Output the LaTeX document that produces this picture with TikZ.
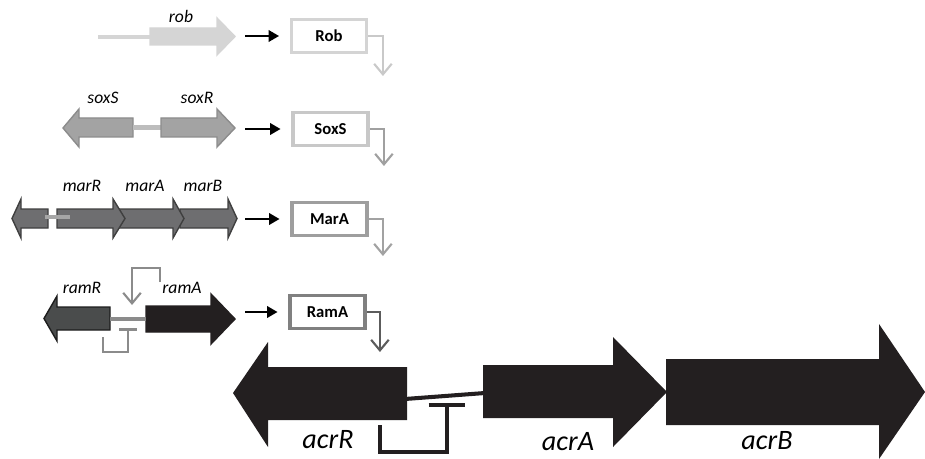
\documentclass[tikz,border=0pt]{standalone}
\usepackage{fontspec}
\setmainfont{Carlito}
\usetikzlibrary{arrows.meta}

\definecolor{robgray}{HTML}{D5D5D5}
\definecolor{robbox}{HTML}{D4D4D4}
\definecolor{robprom}{HTML}{C9C9C9}
\definecolor{soxfill}{HTML}{A3A3A3}
\definecolor{soxline}{HTML}{8C8C8C}
\definecolor{soxlink}{HTML}{BDBDBD}
\definecolor{soxbox}{HTML}{C8C8C8}
\definecolor{soxprom}{HTML}{A0A0A0}
\definecolor{marfill}{HTML}{6E6E70}
\definecolor{marline}{HTML}{3F3F3F}
\definecolor{marlink}{HTML}{A6A6A6}
\definecolor{marbox}{HTML}{9E9E9E}
\definecolor{marprom}{HTML}{A2A2A2}
\definecolor{ramRfill}{HTML}{4A4C4C}
\definecolor{ramline}{HTML}{1D1D1D}
\definecolor{ramAfill}{HTML}{231F20}
\definecolor{ramlink}{HTML}{8B8B8B}
\definecolor{rambox}{HTML}{808080}
\definecolor{ramprom}{HTML}{5C5C5C}
\definecolor{acrfill}{HTML}{231F20}

\tikzset{
  gene/.style={line width=0.8pt, line join=miter},
  regbox/.style={draw, line width=2.2pt, fill=white, minimum width=1.5cm,
    minimum height=0.66cm, font=\fontsize{9.5}{11}\selectfont\bfseries},
  genelabel/.style={font=\fontsize{10}{12}\selectfont\itshape},
  biglabel/.style={font=\fontsize{16}{19}\selectfont\itshape},
  act/.style={-{Triangle[length=6pt,width=6.5pt]}, line width=1.4pt, shorten >=0.21cm},
  prom/.style={-{Straight Barb[length=6pt,width=10pt]}, line width=1.2pt},
  repress/.style={-{Bar[width=21pt]}, line width=2.3pt},
  repsmall/.style={-{Bar[width=10pt]}, line width=1.7pt}
}

\begin{document}
\begin{tikzpicture}[x=0.02cm, y=-0.02cm]
  \useasboundingbox (0,0) rectangle (925,459);

  % rob
  \draw[line width=2.3pt, robgray] (98,37) -- (152,37);
  \filldraw[gene, fill=robgray, draw=robgray] (150,28) -- (217,28) -- (217,18) -- (235,36.5) -- (217,55) -- (217,45) -- (150,45) -- cycle;
  \node[genelabel] (roblab) at (181,16) {rob};
  \node[regbox, draw=robbox] (rob) at (329,36) {Rob};
  \coordinate (robsrc) at (245,36);
  \draw[act] (robsrc) -- (rob.west);
  \draw[prom, robprom] (rob.east) -- ++(14.5,0) -- ++(0,40);

  % soxS / soxR
  \filldraw[gene, fill=soxfill, draw=soxline] (63,128) -- (79,109) -- (79,118) -- (133,118) -- (133,137) -- (79,137) -- (79,147) -- cycle;
  \draw[line width=2.8pt, soxlink] (133,127.5) -- (161,127.5);
  \filldraw[gene, fill=soxfill, draw=soxline] (161,118) -- (217,118) -- (217,109) -- (235,128) -- (217,147) -- (217,137) -- (161,137) -- cycle;
  \node[genelabel] (soxSlab) at (103,98) {soxS};
  \node[genelabel] (soxRlab) at (197,98) {soxR};
  \node[regbox, draw=soxbox] (soxs) at (330.5,129) {SoxS};
  \coordinate (soxsrc) at (245,129);
  \draw[act] (soxsrc) -- (soxs.west);
  \draw[prom, soxprom] (soxs.east) -- ++(14,0) -- ++(0,37);

  % marR / marA / marB
  \filldraw[gene, fill=marfill, draw=marline] (12,218.5) -- (21,199) -- (21,209) -- (48,209) -- (48,228) -- (21,228) -- (21,238) -- cycle;
  \filldraw[gene, fill=marfill, draw=marline] (180,209) -- (228,209) -- (228,199) -- (237,218.5) -- (228,238) -- (228,228) -- (180,228) -- cycle;
  \filldraw[gene, fill=marfill, draw=marline] (118,209) -- (173,209) -- (173,199) -- (184,218.5) -- (173,238) -- (173,228) -- (118,228) -- cycle;
  \filldraw[gene, fill=marfill, draw=marline] (57,209) -- (113,209) -- (113,199) -- (125,218.5) -- (113,238) -- (113,228) -- (57,228) -- cycle;
  \draw[line width=2.3pt, marlink] (45,217) -- (70,217);
  \node[genelabel] (marRlab) at (82,186) {marR};
  \node[genelabel] (marAlab) at (145,186) {marA};
  \node[genelabel] (marBlab) at (203,186) {marB};
  \node[regbox, draw=marbox] (mara) at (329.5,219) {MarA};
  \coordinate (marsrc) at (245,219);
  \draw[act] (marsrc) -- (mara.west);
  \draw[prom, marprom] (mara.east) -- ++(14,0) -- ++(0,37);

  % ramR / ramA
  \filldraw[gene, fill=ramRfill, draw=ramline] (44,318.5) -- (57,296) -- (57,307) -- (110,307) -- (110,330) -- (57,330) -- (57,341) -- cycle;
  \filldraw[gene, fill=ramAfill, draw=ramAfill] (146,306) -- (211,306) -- (211,294) -- (235,319) -- (211,344) -- (211,332) -- (146,332) -- cycle;
  \draw[line width=2.3pt, ramlink] (110,319) -- (146,319);
  \draw[prom, ramlink] (160,282) -- (160,268) -- (132,268) -- (132,305);
  \draw[repsmall, ramlink] (103,337) -- (103,352) -- (128,352) -- (128,328);
  \node[genelabel] (ramRlab) at (82,288) {ramR};
  \node[genelabel] (ramAlab) at (182,288) {ramA};
  \node[regbox, draw=rambox] (rama) at (327.5,312) {RamA};
  \coordinate (ramsrc) at (245,312);
  \draw[act] (ramsrc) -- (rama.west);
  \draw[prom, ramprom] (rama.east) -- ++(13,0) -- ++(0,40);

  % acrR / acrA / acrB
  \fill[acrfill] (233,393) -- (268,342) -- (268,367) -- (407,367) -- (407,420) -- (268,420) -- (268,447) -- cycle;
  \draw[line width=2.3pt, acrfill] (405,399) -- (485,393);
  \fill[acrfill] (483,365) -- (613,365) -- (613,337) -- (667,392) -- (613,447) -- (613,418) -- (483,418) -- cycle;
  \fill[acrfill] (666,359) -- (879,359) -- (879,324) -- (925,392) -- (879,459) -- (879,425) -- (666,425) -- cycle;
  \draw[repress, acrfill] (380,425) -- (380,452) -- (447,452) -- (447,403);
  \node[biglabel] (acrRlab) at (328,440) {acrR};
  \node[biglabel] (acrAlab) at (568,442) {acrA};
  \node[biglabel] (acrBlab) at (767,441) {acrB};
\end{tikzpicture}
\end{document}
